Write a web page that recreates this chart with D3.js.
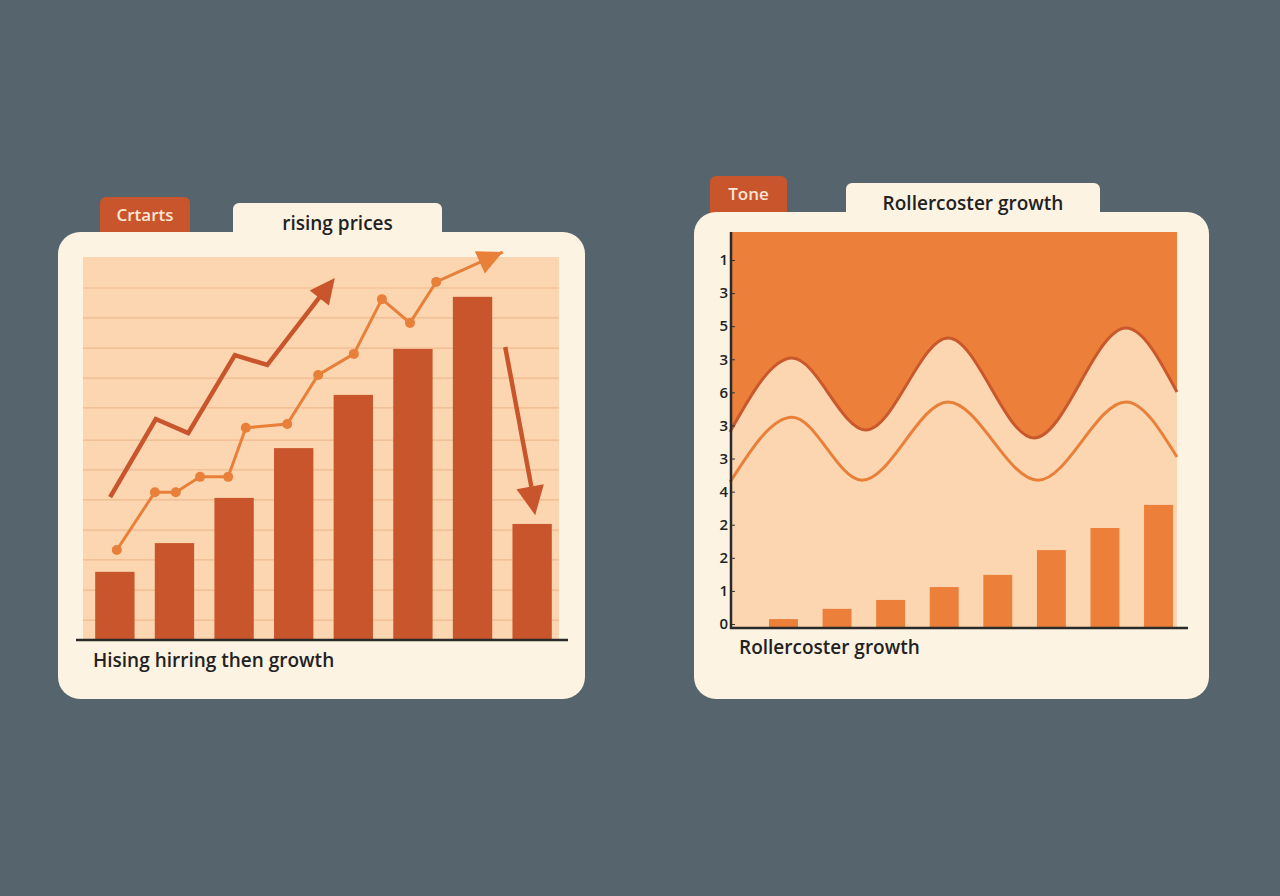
<!DOCTYPE html>
<html>
<head>
<meta charset="utf-8">
<script src="https://cdn.jsdelivr.net/npm/d3@7"></script>
<style>
  body { margin: 0; background: #55646d; }
  svg { display: block; font-family: "Open Sans", sans-serif; }
</style>
</head>
<body>
<svg id="chart" width="1280" height="896"></svg>
<script>
// left card
const leftBars = [17.8, 25.3, 37.1, 50.1, 64, 76, 89.6, 30.3];
const gridLevels = [5.2, 13, 20.9, 28.7, 36.6, 44.4, 52.2, 60.6, 68.4, 76.2, 84.1, 91.9];
const dotLine = [[7.1, 23.5], [15.1, 38.6], [19.5, 38.6], [24.6, 42.6], [30.5, 42.6], [34.2, 55.4],
  [42.9, 56.4], [49.4, 69.2], [56.9, 74.7], [62.8, 89], [68.7, 82.8], [74.2, 93.5]];
const dotArrowEnd = [88.2, 101.3];
const trendLine = [[5.7, 37.3], [15.3, 57.7], [22.1, 54], [31.9, 74.4], [38.7, 71.8], [52.9, 94.5]];
const downArrow = [[88.7, 76.5], [95, 32.6]];

// right card
const upperWave = [[0, 5.94], [13.9, 8.18], [30.4, 6.0], [48.8, 8.79], [68.0, 5.76], [88.6, 9.09], [100, 7.15]];
const lowerWave = [[0, 4.42], [13.9, 6.39], [29.5, 4.48], [48.8, 6.85], [68.9, 4.48], [88.6, 6.85], [100, 5.18]];
const rightBars = [0.27, 0.58, 0.85, 1.24, 1.61, 2.36, 3.03, 3.73];
const rightTicks = ["1", "3", "5", "3", "6", "3", "3", "4", "2", "2", "1", "0"];

const svg = d3.select("#chart");
const cream = "#fdf3e3", dark = "#c9552c", mid = "#e8803a", peach = "#fcd6b1";

function tabRect(x, y, w, h, fill) {
  svg.append("rect").attr("x", x).attr("y", y).attr("width", w).attr("height", h + 10)
    .attr("rx", 6).attr("fill", fill);
}
function tabText(x, y, w, h, label, color, size, dy) {
  svg.append("text").attr("x", x + w / 2).attr("y", y + h / 2 + size * 0.36 + dy)
    .attr("text-anchor", "middle").attr("font-size", size).attr("font-weight", 600)
    .attr("fill", color).text(label);
}

function arrowHead(g, a, b, size, color) {
  const ang = Math.atan2(b[1] - a[1], b[0] - a[0]);
  const p = t => [b[0] - size * Math.cos(ang + t), b[1] - size * Math.sin(ang + t)];
  const l = p(0.45), r = p(-0.45);
  g.append("path").attr("d", `M${b[0]},${b[1]}L${l[0]},${l[1]}L${r[0]},${r[1]}Z`).attr("fill", color);
}

// ---------- LEFT ----------
tabRect(100, 197, 90, 35, dark);
tabRect(233, 203, 209, 32, cream);
svg.append("rect").attr("x", 58).attr("y", 232).attr("width", 527).attr("height", 467).attr("rx", 22).attr("fill", cream);
tabText(100, 197, 90, 35, "Crtarts", "#fbe6d6", 17, 0);
tabText(233, 203, 209, 32, "rising prices", "#222", 19, 4);

const lx = d3.scaleLinear([0, 100], [83, 559]);
const ly = d3.scaleLinear([0, 100], [640, 257]);
const lband = d3.scaleBand(d3.range(leftBars.length), [94, 553]).paddingInner(0.34).paddingOuter(0.02);

const L = svg.append("g");
L.append("rect").attr("x", 83).attr("y", 257).attr("width", 476).attr("height", 383).attr("fill", peach);
L.selectAll(".grid").data(gridLevels).join("line")
  .attr("x1", 83).attr("x2", 559).attr("y1", d => ly(d)).attr("y2", d => ly(d))
  .attr("stroke", "#efb98e").attr("stroke-width", 1.2);
L.selectAll(".bar").data(leftBars).join("rect")
  .attr("x", (d, i) => lband(i)).attr("width", lband.bandwidth())
  .attr("y", d => ly(d)).attr("height", d => ly(0) - ly(d)).attr("fill", dark);

const line = d3.line().x(d => lx(d[0])).y(d => ly(d[1]));
const dotFull = dotLine.concat([dotArrowEnd]);
L.append("path").attr("d", line(dotFull)).attr("fill", "none").attr("stroke", mid).attr("stroke-width", 3);
L.selectAll(".dot").data(dotLine).join("circle")
  .attr("cx", d => lx(d[0])).attr("cy", d => ly(d[1])).attr("r", 5).attr("fill", mid);
const px = d => [lx(d[0]), ly(d[1])];
arrowHead(L, px(dotLine[dotLine.length - 1]), px(dotArrowEnd), 28, mid);

L.append("path").attr("d", line(trendLine.slice(0, -1).concat([[51, 91.6]]))).attr("fill", "none").attr("stroke", dark).attr("stroke-width", 4.5);
arrowHead(L, px(trendLine[trendLine.length - 2]), px(trendLine[trendLine.length - 1]), 28, dark);

L.append("path").attr("d", line([downArrow[0], [94.2, 40]])).attr("fill", "none").attr("stroke", dark).attr("stroke-width", 4.5);
arrowHead(L, px(downArrow[0]), px(downArrow[1]), 32, dark);

L.append("line").attr("x1", 76).attr("x2", 568).attr("y1", 640).attr("y2", 640).attr("stroke", "#2a2a2a").attr("stroke-width", 2.5);
L.append("text").attr("x", 93).attr("y", 667).attr("font-size", 19).attr("font-weight", 600)
  .attr("fill", "#222").text("Hising hirring then growth");

// ---------- RIGHT ----------
tabRect(710, 176, 77, 36, dark);
tabRect(846, 183, 254, 32, cream);
svg.append("rect").attr("x", 694).attr("y", 212).attr("width", 515).attr("height", 487).attr("rx", 22).attr("fill", cream);
tabText(710, 176, 77, 36, "Tone", "#fbe6d6", 17, 0);
tabText(846, 183, 254, 32, "Rollercoster growth", "#222", 19, 4);

const rx = d3.scaleLinear([0, 100], [730, 1177]);
const ry = d3.scaleLinear([0, 12], [628, 232]);
const R = svg.append("g");
R.append("rect").attr("x", 730).attr("y", 232).attr("width", 447).attr("height", 396).attr("fill", peach);

const curve = d3.curveMonotoneX;
const area = d3.area().x(d => rx(d[0])).y0(ry(12)).y1(d => ry(d[1])).curve(curve);
R.append("path").attr("d", area(upperWave)).attr("fill", "#ec7f3a");
const wline = d3.line().x(d => rx(d[0])).y(d => ry(d[1])).curve(curve);
R.append("path").attr("d", wline(upperWave)).attr("fill", "none").attr("stroke", "#c9582c").attr("stroke-width", 3);
R.append("path").attr("d", wline(lowerWave)).attr("fill", "none").attr("stroke", mid).attr("stroke-width", 3);

const rband = d3.scaleBand(d3.range(rightBars.length), [769, 1173]).paddingInner(0.46).paddingOuter(0);
R.selectAll(".rbar").data(rightBars).join("rect")
  .attr("x", (d, i) => rband(i)).attr("width", rband.bandwidth())
  .attr("y", d => ry(d)).attr("height", d => ry(0) - ry(d)).attr("fill", "#ec7f3a");

const tickScale = d3.scalePoint(d3.range(rightTicks.length), [260, 624]);
const yAxis = d3.axisLeft(tickScale).tickSize(4).tickPadding(3).tickFormat(i => rightTicks[i]);
const ag = R.append("g").attr("transform", "translate(735,0)").call(yAxis);
ag.select(".domain").remove();
ag.selectAll("text").attr("font-size", 15).attr("font-weight", 600).attr("fill", "#222").attr("font-family", "Open Sans");
ag.selectAll("line").attr("stroke", "#333");

R.append("line").attr("x1", 731).attr("x2", 731).attr("y1", 232).attr("y2", 629).attr("stroke", "#2a2a2a").attr("stroke-width", 2.5);
R.append("line").attr("x1", 730).attr("x2", 1188).attr("y1", 628).attr("y2", 628).attr("stroke", "#2a2a2a").attr("stroke-width", 2.5);
R.append("text").attr("x", 739).attr("y", 654).attr("font-size", 19).attr("font-weight", 600)
  .attr("fill", "#222").text("Rollercoster growth");
</script>
</body>
</html>
